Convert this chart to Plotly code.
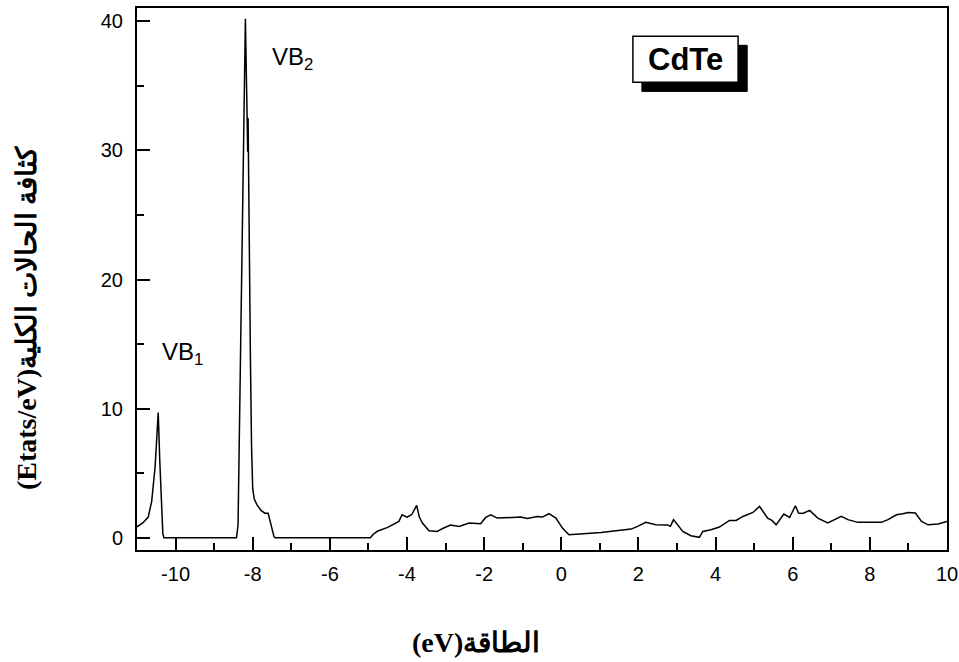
import plotly.graph_objects as go

energy = [-11.0, -10.85, -10.71, -10.62, -10.53, -10.48, -10.45, -10.41, -10.37, -10.33, -10.30,
          -8.42, -8.38, -8.33, -8.19, -8.13, -8.125, -8.12, -8.10, -8.06, -8.03, -8.0, -7.96, -7.88,
          -7.78, -7.68, -7.6, -7.52, -7.45, -7.42,
          -4.95, -4.88, -4.77, -4.5, -4.21, -4.13, -4.0, -3.88, -3.75, -3.68, -3.6, -3.43, -3.22,
          -3.05, -2.87, -2.65, -2.39, -2.09, -1.96, -1.83, -1.66, -1.05, -0.88, -0.62, -0.49,
          -0.32, -0.14, 0.03, 0.2, 1.03, 1.81, 1.98, 2.19, 2.45, 2.76, 2.83, 2.91, 3.15, 3.36,
          3.58, 3.67, 3.88, 4.1, 4.36, 4.53, 4.71, 4.97, 5.14, 5.35, 5.46, 5.57, 5.77, 5.92,
          6.07, 6.15, 6.26, 6.44, 6.65, 6.91, 7.26, 7.43, 7.69, 8.04, 8.3, 8.47, 8.69, 8.86,
          8.99, 9.18, 9.34, 9.51, 9.77, 10.0]
dos = [0.85, 1.15, 1.6, 2.8, 5.5, 7.8, 9.7, 6.0, 2.5, 0.3, 0.0,
       0.0, 1.0, 11.0, 40.2, 29.9, 30.0, 32.5, 24.0, 14.0, 7.0, 3.8, 3.0, 2.5,
       2.1, 1.9, 1.9, 0.9, 0.1, 0.0,
       0.0, 0.25, 0.5, 0.8, 1.27, 1.78, 1.6, 1.78, 2.5, 1.6, 1.14, 0.54, 0.49,
       0.75, 0.98, 0.88, 1.14, 1.09, 1.57, 1.78, 1.52, 1.6, 1.5, 1.65, 1.6,
       1.86, 1.52, 0.75, 0.23, 0.41, 0.67, 0.88, 1.19, 1.0, 0.98, 0.88, 1.4, 0.49, 0.16,
       0.03, 0.49, 0.62, 0.83, 1.34, 1.34, 1.65, 1.96, 2.43, 1.52, 1.34, 1.0, 1.83, 1.57,
       2.48, 1.91, 1.88, 2.12, 1.52, 1.14, 1.65, 1.4, 1.19, 1.21, 1.19, 1.4, 1.78, 1.86,
       1.96, 1.91, 1.26, 1.0, 1.06, 1.26]

x_ticks = [-10, -8, -6, -4, -2, 0, 2, 4, 6, 8, 10]
x_tick_labels = ["-10", "-8", "-6", "-4", "-2", "0", "2", "4", "6", "8", "10"]
y_ticks = [0, 10, 20, 30, 40]
y_tick_labels = ["0", "10", "20", "30", "40"]

fig = go.Figure()
fig.add_trace(go.Scatter(x=energy, y=dos, mode="lines",
                         line=dict(color="black", width=1.5), showlegend=False))

tickfont = dict(family="Liberation Sans, Arial", size=20, color="black")
fig.update_xaxes(range=[-11, 10], tickvals=x_ticks, ticktext=x_tick_labels, ticks="inside",
                 ticklen=13, tickwidth=2, automargin=False,
                 tickcolor="black", showline=True, linewidth=2, linecolor="black", mirror=True,
                 showgrid=False, zeroline=False, tickfont=tickfont, ticklabelstandoff=5,
                 minor=dict(dtick=1, ticks="inside", ticklen=7, tickwidth=2, tickcolor="black",
                            showgrid=False))
fig.update_yaxes(range=[-0.95, 41.03], tickvals=y_ticks, ticktext=y_tick_labels, ticks="inside",
                 ticklen=13, tickwidth=2, automargin=False,
                 tickcolor="black", showline=True, linewidth=2, linecolor="black", mirror=True,
                 showgrid=False, zeroline=False, tickfont=tickfont, ticklabelstandoff=8,
                 minor=dict(dtick=5, ticks="inside", ticklen=7, tickwidth=2, tickcolor="black",
                            showgrid=False))

# CdTe label box with shadow
fig.add_shape(type="rect", x0=2.09, x1=4.82, y0=34.57, y1=38.14,
              fillcolor="black", line=dict(color="black", width=1), layer="above")
fig.add_shape(type="rect", x0=1.857, x1=4.584, y0=35.27, y1=38.84,
              fillcolor="white", line=dict(color="black", width=1.5), layer="above")

fig.add_annotation(x=3.22, y=37.05, text="<b>CdTe</b>", showarrow=False,
                   font=dict(family="Liberation Sans, Arial", size=31, color="black"),
                   xanchor="center", yanchor="middle")
fig.add_annotation(x=-7.545, y=37.1, text="VB<sub>2</sub>", showarrow=False,
                   font=dict(family="Liberation Sans, Arial", size=24, color="black"),
                   xanchor="left", yanchor="middle")
fig.add_annotation(x=-10.40, y=14.3, text="VB<sub>1</sub>", showarrow=False,
                   font=dict(family="Liberation Sans, Arial", size=24, color="black"),
                   xanchor="left", yanchor="middle")

titlefont = dict(family="Liberation Serif, Times New Roman, DejaVu Serif", size=28, color="black")
fig.add_annotation(xref="paper", yref="paper", x=-0.137, y=0.428,
                   text="<b>(Etats/eV)كثافة الحالات الكلية</b>", textangle=-90, showarrow=False,
                   font=titlefont, xanchor="center", yanchor="middle")
fig.add_annotation(xref="paper", yref="paper", x=0.418, y=-0.17,
                   text="<b>(eV)الطاقة</b>", showarrow=False,
                   font=titlefont, xanchor="center", yanchor="middle")

fig.update_layout(width=959, height=662, margin=dict(l=137, r=12, t=8, b=112),
                  plot_bgcolor="white", paper_bgcolor="white")

fig.write_html("out.html", config={"displayModeBar": False},
               post_script="document.body.style.margin='0';")
